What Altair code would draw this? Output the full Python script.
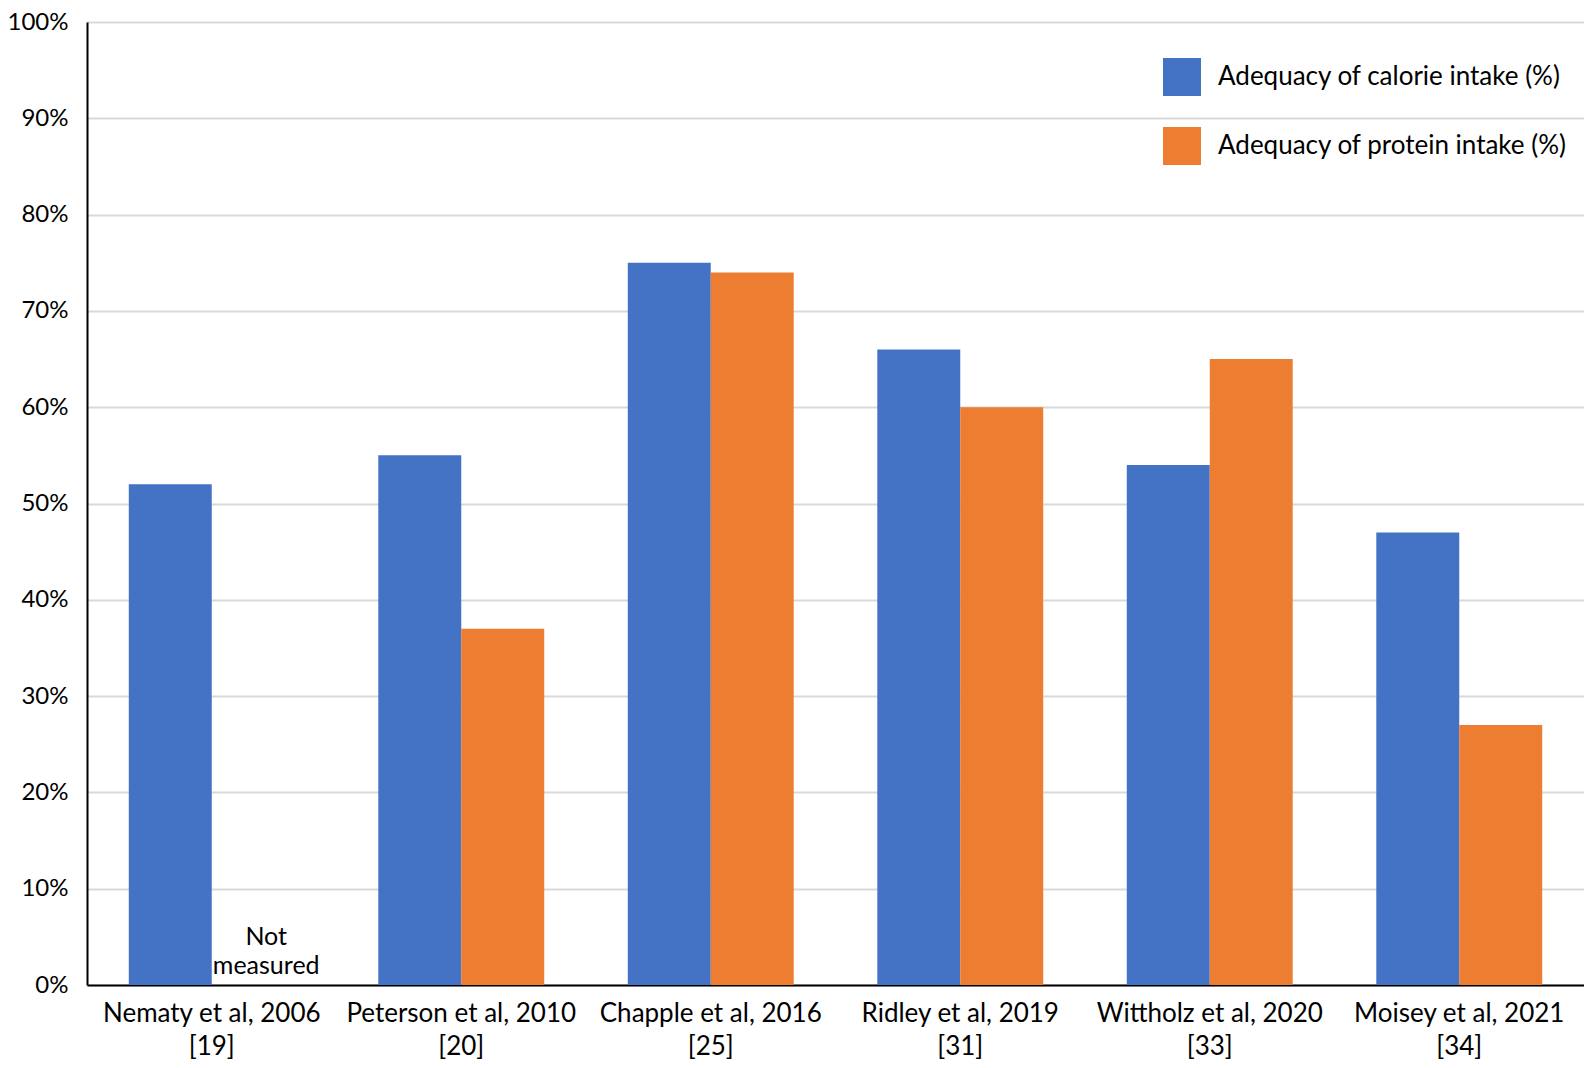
import altair as alt
import pandas as pd

studies = ["Nematy et al, 2006", "Peterson et al, 2010", "Chapple et al, 2016",
           "Ridley et al, 2019", "Wittholz et al, 2020", "Moisey et al, 2021"]
refs = ["[19]", "[20]", "[25]", "[31]", "[33]", "[34]"]
calorie = [52, 55, 75, 66, 54, 47]
protein = [None, 37, 74, 60, 65, 27]
series = ["Adequacy of calorie intake (%)", "Adequacy of protein intake (%)"]
colors = ["#4472C4", "#ED7D31"]
y_ticks = list(range(0, 101, 10))
note_text = "Not\nmeasured"

labels = [f"{s}|{r}" for s, r in zip(studies, refs)]
rows = []
for lab, c, p in zip(labels, calorie, protein):
    rows.append({"study": lab, "series": series[0], "value": c})
    if p is not None:
        rows.append({"study": lab, "series": series[1], "value": p})
df = pd.DataFrame(rows)
df_note = pd.DataFrame([{"study": labels[0], "series": series[1], "value": 0, "note": note_text}])

x = alt.X("study:N", sort=labels,
          scale=alt.Scale(paddingInner=0.335, paddingOuter=0.1675),
          axis=alt.Axis(title=None, labelExpr="split(datum.label, '|')", labelAngle=0,
                        labelFontSize=26, labelLineHeight=33, labelPadding=15,
                        ticks=False, domainColor="black", domainWidth=2,
                        labelColor="black", labelBaseline="top", labelLimit=400))
xo = alt.XOffset("series:N", sort=series, scale=alt.Scale(paddingInner=0, paddingOuter=0))
y = alt.Y("value:Q", scale=alt.Scale(domain=[0, 100], nice=False),
          axis=alt.Axis(title=None, values=y_ticks, labelExpr="datum.value + '%'",
                        grid=True, gridColor="#d9d9d9", gridWidth=2, ticks=False,
                        domainColor="black", domainWidth=2, labelFontSize=24,
                        labelPadding=19, labelColor="black"))

bars = alt.Chart(df).mark_bar().encode(
    x=x, xOffset=xo, y=y,
    color=alt.Color("series:N", scale=alt.Scale(domain=series, range=colors),
                    legend=alt.Legend(title=None, orient="none", legendX=1076, legendY=36,
                                      symbolType="square", symbolSize=1444,
                                      labelFontSize=26, rowPadding=31, labelOffset=17,
                                      symbolStrokeWidth=0, labelLimit=600, padding=0,
                                      labelColor="black")),
)

note = alt.Chart(df_note).mark_text(lineBreak="\n", baseline="top", fontSize=25,
                                    lineHeight=29, dx=13, dy=-60, color="black").encode(
    x=x, xOffset=xo, y=y, text="note:N"
)

chart = alt.layer(bars, note).properties(
    width=1497, height=963,
    autosize=alt.AutoSizeParams(type="none"),
    padding={"left": 79, "top": 14, "right": 0, "bottom": 75},
).configure(font="Lato").configure_view(strokeWidth=0)

chart.save("out.html", embed_options={"renderer": "svg", "actions": False})
